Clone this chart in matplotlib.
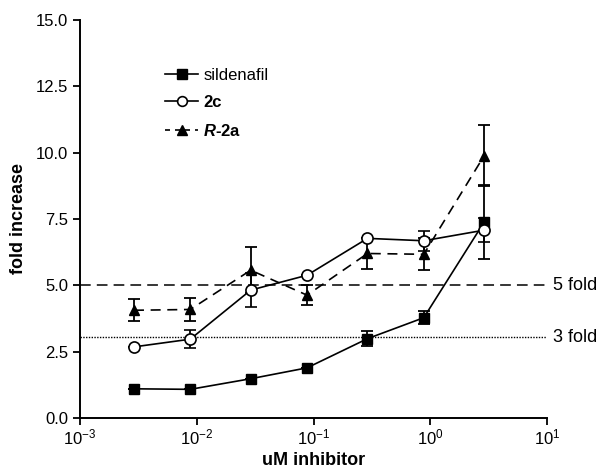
import numpy as np
import matplotlib
matplotlib.use("Agg")
import matplotlib.pyplot as plt
from matplotlib.lines import Line2D
from matplotlib.ticker import LogLocator, NullLocator
from matplotlib.transforms import blended_transform_factory

plt.rcParams['font.family'] = ['Liberation Sans', 'DejaVu Sans']
plt.rcParams['mathtext.fontset'] = 'custom'
plt.rcParams['mathtext.rm'] = 'Liberation Sans'
plt.rcParams['mathtext.it'] = 'Liberation Sans:italic'
plt.rcParams['mathtext.bf'] = 'Liberation Sans:bold'
plt.rcParams['mathtext.bfit'] = 'Liberation Sans:bold:italic'
plt.rcParams['axes.unicode_minus'] = False

# concentrations (uM)
conc = [0.0029, 0.0088, 0.029, 0.088, 0.29, 0.88, 2.9]

sildenafil = [1.10, 1.08, 1.48, 1.89, 2.99, 3.78, 7.39]
sildenafil_err = [0.0, 0.0, 0.0, 0.0, 0.28, 0.25, 1.40]

c2 = [2.68, 2.97, 4.82, 5.38, 6.77, 6.68, 7.08]
c2_err = [0.0, 0.33, 0.63, 0.0, 0.0, 0.38, 0.46]

r2a = [4.06, 4.09, 5.57, 4.63, 6.20, 6.17, 9.89]
r2a_err = [0.41, 0.44, 0.86, 0.38, 0.58, 0.60, 1.15]

fold_levels = [5.0, 3.05]
fold_labels = ["5 fold", "3 fold"]

fig = plt.figure(figsize=(6.0, 4.73), dpi=100)
ax = fig.add_axes([0.1333, 0.1163, 0.7784, 0.8414])

ebkw = dict(capsize=4.5, elinewidth=1.3, capthick=1.3, color='black', lw=1.2)

ax.errorbar(conc, sildenafil, yerr=sildenafil_err, marker='s', ms=7,
            mfc='black', mec='black', ls='-', zorder=3, **ebkw)
ax.errorbar(conc, c2, yerr=c2_err, marker='o', ms=8, mfc='white', mec='black',
            mew=1.2, ls='-', zorder=4, **ebkw)
ax.errorbar(conc, r2a, yerr=r2a_err, marker='^', ms=7, mfc='black', mec='black',
            ls=(0, (6, 4)), zorder=3, **ebkw)

ax.axhline(fold_levels[0], color='black', lw=1.1, ls=(0, (7, 4)), zorder=1)
ax.axhline(fold_levels[1], color='black', lw=1.0, ls=(0, (1, 1)), zorder=1)

trans = blended_transform_factory(ax.transAxes, ax.transData)
for lvl, lab in zip(fold_levels, fold_labels):
    ax.text(1.013, lvl, lab, transform=trans, va='center', ha='left', fontsize=13)

ax.set_xscale('log')
ax.set_xlim(1e-3, 1e1)
ax.set_ylim(0, 15)
ax.xaxis.set_major_locator(LogLocator(base=10, numticks=10))
ax.xaxis.set_minor_locator(NullLocator())
ax.set_yticks([0, 2.5, 5.0, 7.5, 10.0, 12.5, 15.0])
ax.set_yticklabels(["0.0", "2.5", "5.0", "7.5", "10.0", "12.5", "15.0"])

for s in ['top', 'right']:
    ax.spines[s].set_visible(False)
for s in ['left', 'bottom']:
    ax.spines[s].set_linewidth(1.4)
ax.tick_params(direction='out', length=5, width=1.3, labelsize=12)
ax.tick_params(axis='x', pad=2)

ax.set_xlabel('uM inhibitor', fontsize=13, fontweight='bold', labelpad=3)
ax.set_ylabel('fold increase', fontsize=13, fontweight='bold', labelpad=6)

handles = [
    Line2D([], [], color='black', lw=1.2, marker='s', ms=7, mfc='black'),
    Line2D([], [], color='black', lw=1.2, marker='o', ms=7, mfc='white', mew=1.2),
    Line2D([], [], color='black', lw=1.2, marker='^', ms=7, mfc='black', ls=(0, (3, 3))),
]
labels = ['sildenafil', '2c', r'$\mathbfit{R}$-2a']
leg = ax.legend(handles, labels, loc='upper left', bbox_to_anchor=(0.15, 0.918),
                frameon=False, fontsize=12, handlelength=2.0, handletextpad=0.3,
                labelspacing=0.75)
leg.get_texts()[1].set_fontweight('bold')
leg.get_texts()[2].set_fontweight('bold')

fig.savefig('out.png', dpi=100)
